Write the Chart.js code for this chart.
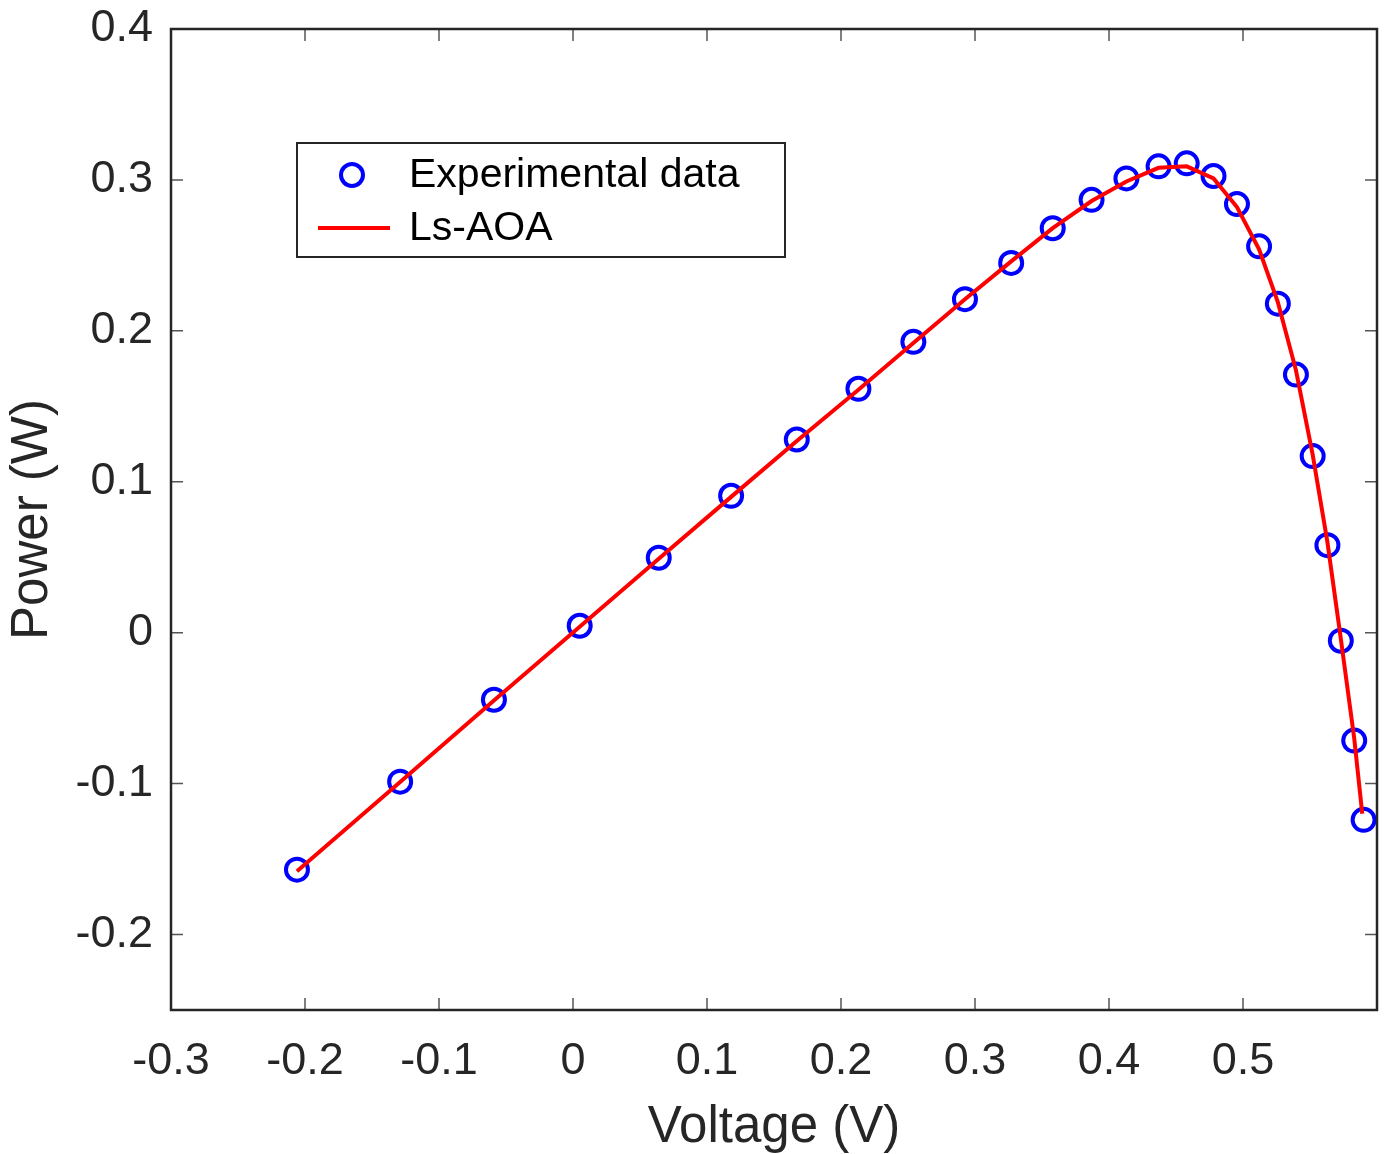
<!DOCTYPE html>
<html lang="en">
<head>
    <meta charset="UTF-8">
    <title>Power vs Voltage</title>
    <script src="https://cdn.jsdelivr.net/npm/chart.js"></script>
    <style>
        body {
            margin: 0;
            padding: 0;
            background: #fff;
        }
        .wrap {
            width: 1386px;
            height: 1154px;
        }
    </style>
</head>
<body>
    <div class="wrap">
        <canvas id="pvChart" width="1386" height="1154"></canvas>
    </div>

    <script>
        // measured points
        const voltage = [-0.206, -0.129, -0.059, 0.005, 0.064, 0.118, 0.167, 0.213, 0.254, 0.2925,
                         0.327, 0.358, 0.387, 0.413, 0.437, 0.458, 0.478, 0.4955, 0.512, 0.526,
                         0.5395, 0.552, 0.563, 0.573, 0.583, 0.590];
        const powerMeasured = [-0.157, -0.0987, -0.0444, 0.0046, 0.0497, 0.0907, 0.128, 0.1616, 0.1927, 0.221,
                               0.245, 0.268, 0.2868, 0.301, 0.309, 0.311, 0.3026, 0.284, 0.256, 0.218,
                               0.171, 0.117, 0.058, -0.0053, -0.0715, -0.124];
        // Ls-AOA fitted curve
        const fitVoltage = [-0.206, -0.129, -0.059, 0.005, 0.064, 0.118, 0.167, 0.213, 0.254, 0.2925,
                            0.327, 0.358, 0.387, 0.413, 0.437, 0.458, 0.478, 0.4955, 0.512, 0.526,
                            0.5395, 0.552, 0.563, 0.573, 0.583, 0.589];
        const powerFit = [-0.158, -0.099, -0.045, 0.004, 0.049, 0.090, 0.127, 0.161, 0.192, 0.221,
                          0.246, 0.268, 0.286, 0.299, 0.308, 0.309, 0.301, 0.282, 0.254, 0.219,
                          0.174, 0.118, 0.060, -0.004, -0.070, -0.120];

        const xTickValues = [-0.3, -0.2, -0.1, 0, 0.1, 0.2, 0.3, 0.4, 0.5];
        const yTickValues = [-0.2, -0.1, 0, 0.1, 0.2, 0.3, 0.4];

        const FONT = "'Liberation Sans', Arial, sans-serif";
        const AXIS_COLOR = '#262626';

        const toPoints = (xs, ys) => xs.map((x, i) => ({ x: x, y: ys[i] }));

        // box around the axes + ticks pointing inward on all four sides
        const frameTicks = {
            id: 'frameTicks',
            afterDraw(chart) {
                const ctx = chart.ctx;
                const a = chart.chartArea;
                const xs = chart.scales.x, ys = chart.scales.y;
                const len = 12;
                ctx.save();
                ctx.strokeStyle = '#555';
                ctx.lineWidth = 1.5;
                ctx.beginPath();
                xs.ticks.forEach(t => {
                    const px = xs.getPixelForValue(t.value);
                    ctx.moveTo(px, a.bottom); ctx.lineTo(px, a.bottom - len);
                    ctx.moveTo(px, a.top); ctx.lineTo(px, a.top + len);
                });
                ys.ticks.forEach(t => {
                    const py = ys.getPixelForValue(t.value);
                    ctx.moveTo(a.left, py); ctx.lineTo(a.left + len, py);
                    ctx.moveTo(a.right, py); ctx.lineTo(a.right - len, py);
                });
                ctx.stroke();
                ctx.strokeStyle = AXIS_COLOR;
                ctx.lineWidth = 2.5;
                ctx.strokeRect(a.left, a.top, a.right - a.left, a.bottom - a.top);
                ctx.restore();
            }
        };

        // legend box drawn inside the plot, MATLAB style
        const boxLegend = {
            id: 'boxLegend',
            afterDraw(chart) {
                const ctx = chart.ctx;
                const sets = chart.data.datasets;
                const bx = 297, by = 143, bw = 488, bh = 114;
                ctx.save();
                ctx.fillStyle = '#fff';
                ctx.fillRect(bx, by, bw, bh);
                ctx.strokeStyle = AXIS_COLOR;
                ctx.lineWidth = 2;
                ctx.strokeRect(bx, by, bw, bh);

                // experimental data marker
                const rowY = [by + 32, by + 85];
                ctx.strokeStyle = sets[0].borderColor;
                ctx.lineWidth = sets[0].borderWidth;
                ctx.beginPath();
                ctx.arc(bx + 55, rowY[0], 11, 0, Math.PI * 2);
                ctx.stroke();

                // fitted line sample
                ctx.strokeStyle = sets[1].borderColor;
                ctx.lineWidth = sets[1].borderWidth;
                ctx.beginPath();
                ctx.moveTo(bx + 21, rowY[1]);
                ctx.lineTo(bx + 93, rowY[1]);
                ctx.stroke();

                ctx.fillStyle = '#000';
                ctx.font = '41px ' + FONT;
                ctx.textBaseline = 'middle';
                ctx.textAlign = 'left';
                ctx.fillText(sets[0].label, bx + 112, rowY[0] + 1);
                ctx.fillText(sets[1].label, bx + 112, rowY[1] + 1);
                ctx.restore();
            }
        };

        new Chart(document.getElementById('pvChart'), {
            type: 'scatter',
            data: {
                datasets: [{
                    label: 'Experimental data',
                    data: toPoints(voltage, powerMeasured),
                    borderColor: '#0000ff',
                    backgroundColor: 'rgba(0,0,0,0)',
                    borderWidth: 4,
                    pointRadius: 11,
                    pointHoverRadius: 11,
                    pointStyle: 'circle',
                    showLine: false,
                    clip: false,
                    order: 1
                }, {
                    label: 'Ls-AOA',
                    data: toPoints(fitVoltage, powerFit),
                    borderColor: '#ff0000',
                    backgroundColor: '#ff0000',
                    borderWidth: 4,
                    pointRadius: 0,
                    showLine: true,
                    tension: 0,
                    clip: false,
                    order: 0
                }]
            },
            options: {
                responsive: false,
                animation: false,
                events: [],
                layout: { autoPadding: false, padding: { top: 29, right: 9, left: 0, bottom: 0 } },
                plugins: {
                    legend: { display: false },
                    tooltip: { enabled: false }
                },
                scales: {
                    x: {
                        type: 'linear',
                        min: -0.3,
                        max: 0.6,
                        afterBuildTicks: s => { s.ticks = xTickValues.map(v => ({ value: v })); },
                        afterFit: s => { s.height = 144; s.paddingLeft = 0; s.paddingRight = 0; },
                        grid: { display: false, drawTicks: false },
                        border: { display: false },
                        ticks: {
                            padding: 25,
                            color: AXIS_COLOR,
                            font: { family: FONT, size: 45 },
                            maxRotation: 0,
                            callback: v => String(Math.round(v * 10) / 10)
                        },
                        title: {
                            display: true,
                            text: 'Voltage (V)',
                            color: AXIS_COLOR,
                            font: { family: FONT, size: 51, lineHeight: 1 },
                            padding: { top: 0, bottom: 1 }
                        }
                    },
                    y: {
                        type: 'linear',
                        min: -0.25,
                        max: 0.4,
                        afterBuildTicks: s => { s.ticks = yTickValues.map(v => ({ value: v })); },
                        afterFit: s => { s.width = 171; s.paddingTop = 0; s.paddingBottom = 0; },
                        grid: { display: false, drawTicks: false },
                        border: { display: false },
                        ticks: {
                            padding: 18,
                            color: AXIS_COLOR,
                            font: { family: FONT, size: 45 },
                            callback: v => String(Math.round(v * 10) / 10)
                        },
                        title: {
                            display: true,
                            text: 'Power (W)',
                            color: AXIS_COLOR,
                            font: { family: FONT, size: 51, lineHeight: 1 },
                            padding: { top: 7, bottom: 0 }
                        }
                    }
                }
            },
            plugins: [frameTicks, boxLegend]
        });
    </script>
</body>
</html>
